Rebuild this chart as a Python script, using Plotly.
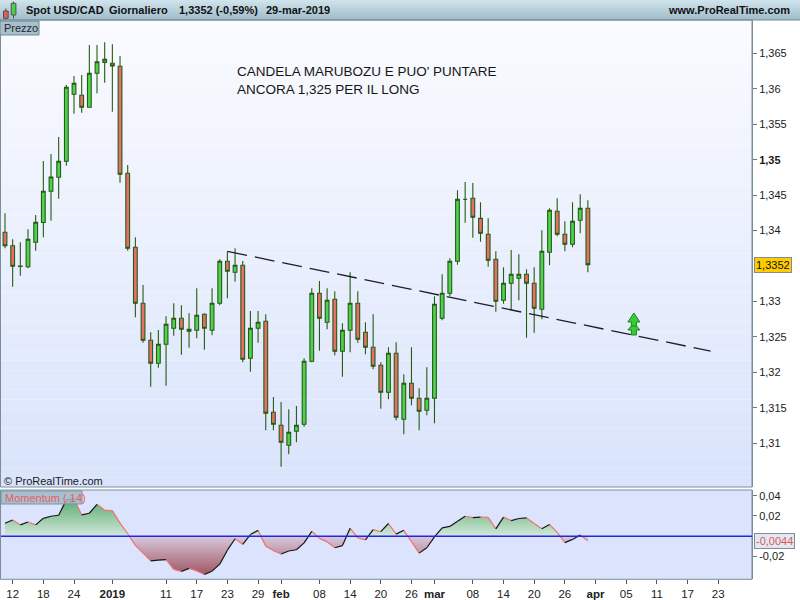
import plotly.graph_objects as go
import pandas as pd

# ---------------- data ----------------
HOLIDAYS = ["2018-12-25", "2019-01-01"]
calendar = [d.strftime("%Y-%m-%d") for d in pd.bdate_range("2018-12-11", "2019-04-30")
            if d.strftime("%Y-%m-%d") not in HOLIDAYS]
day_pos = {d: i for i, d in enumerate(calendar)}
dates = [d for d in calendar if d <= "2019-03-29"]

open_ = [1.33976, 1.33787, 1.33494, 1.33491, 1.33835, 1.34114, 1.34554, 1.34752, 1.34977, 1.35922,
         1.35908, 1.35739, 1.36218, 1.36373, 1.36359, 1.36317, 1.34808, 1.33765, 1.32975, 1.32453,
         1.32129, 1.32397, 1.32622, 1.32763, 1.32608, 1.32594, 1.32820, 1.32594, 1.32975, 1.33567,
         1.33412, 1.33511, 1.32199, 1.32622, 1.32721, 1.31438, 1.31254, 1.30972, 1.31170, 1.31268,
         1.32157, 1.33116, 1.32707, 1.33031, 1.32298, 1.32594, 1.32975, 1.32566, 1.32354, 1.32101,
         1.31720, 1.32270, 1.31339, 1.31847, 1.31635, 1.31466, 1.31635, 1.32763, 1.33116, 1.33567,
         1.34440, 1.34456, 1.34173, 1.33948, 1.33595, 1.33017, 1.33257, 1.33327, 1.33384, 1.33257,
         1.32890, 1.33694, 1.34272, 1.33948, 1.33807, 1.34145, 1.34315]
high = [1.34244, 1.33877, 1.33835, 1.34018, 1.34220, 1.34982, 1.35080, 1.35320, 1.36053, 1.36180,
        1.36194, 1.36617, 1.36617, 1.36655, 1.36627, 1.36462, 1.34925, 1.33906, 1.33233, 1.32566,
        1.32598, 1.32792, 1.32975, 1.32947, 1.32834, 1.33186, 1.32834, 1.33186, 1.33595, 1.33708,
        1.33750, 1.33571, 1.32866, 1.32866, 1.32820, 1.31653, 1.31583, 1.31480, 1.31527, 1.32199,
        1.33186, 1.33289, 1.33186, 1.33144, 1.32693, 1.33412, 1.33144, 1.32707, 1.32820, 1.32143,
        1.32354, 1.32425, 1.31974, 1.32354, 1.31776, 1.32072, 1.33074, 1.33384, 1.33609, 1.34568,
        1.34685, 1.34671, 1.34399, 1.34173, 1.33708, 1.33482, 1.33726, 1.33666, 1.33454, 1.33482,
        1.34004, 1.34315, 1.34456, 1.34131, 1.34399, 1.34512, 1.34427]
low = [1.33750, 1.33209, 1.33364, 1.33468, 1.33717, 1.33906, 1.34140, 1.34450, 1.34915, 1.35649,
       1.35663, 1.35736, 1.35936, 1.36086, 1.35677, 1.34676, 1.33717, 1.32777, 1.32419, 1.31799,
       1.32067, 1.31813, 1.32518, 1.32250, 1.32349, 1.32481, 1.32321, 1.32524, 1.32947, 1.33045,
       1.33280, 1.32143, 1.32010, 1.32419, 1.31184, 1.31184, 1.30671, 1.30845, 1.31015, 1.31235,
       1.32143, 1.32306, 1.32608, 1.32242, 1.31940, 1.32284, 1.32419, 1.32256, 1.32044, 1.31488,
       1.31621, 1.31325, 1.31128, 1.31536, 1.31184, 1.31395, 1.31283, 1.32735, 1.33074, 1.33519,
       1.34111, 1.33900, 1.33843, 1.33491, 1.32856, 1.32969, 1.32876, 1.33017, 1.32490, 1.32560,
       1.32749, 1.33511, 1.33920, 1.33708, 1.33765, 1.33962, 1.33412]
close = [1.33787, 1.33497, 1.33501, 1.33877, 1.34117, 1.34554, 1.34756, 1.34977, 1.36021, 1.36077,
         1.35739, 1.36218, 1.36382, 1.36416, 1.36321, 1.34794, 1.33750, 1.32975, 1.32453, 1.32129,
         1.32397, 1.32679, 1.32763, 1.32608, 1.32580, 1.32806, 1.32622, 1.32975, 1.33567, 1.33426,
         1.33511, 1.32185, 1.32622, 1.32707, 1.31424, 1.31268, 1.31015, 1.31156, 1.31254, 1.32157,
         1.33116, 1.32763, 1.33017, 1.32298, 1.32594, 1.32975, 1.32467, 1.32354, 1.32086, 1.31720,
         1.32270, 1.31367, 1.31847, 1.31635, 1.31452, 1.31635, 1.32961, 1.33116, 1.33567, 1.34441,
         1.34440, 1.34188, 1.33962, 1.33581, 1.33003, 1.33257, 1.33384, 1.33384, 1.33257, 1.32904,
         1.33708, 1.34286, 1.33948, 1.33807, 1.34131, 1.34315, 1.33520]

momentum = [0.0128, 0.0161, 0.0112, 0.0141, 0.0112, 0.0177, 0.0197, 0.0207, 0.0360, 0.0370,
            0.0210, 0.0227, 0.0315, 0.0256, 0.0253, 0.0130, 0.0025, -0.0090, -0.0166, -0.0243,
            -0.0236, -0.0230, -0.0326, -0.0347, -0.0316, -0.0341, -0.0376, -0.0344, -0.0275, -0.0137,
            -0.0024, -0.0079, 0.0017, 0.0058, -0.0097, -0.0141, -0.0175, -0.0145, -0.0133, -0.0065,
            0.0049, -0.0021, -0.0055, -0.0113, -0.0092, 0.0079, -0.0016, -0.0035, 0.0066, 0.0045,
            0.0126, 0.0021, 0.0059, -0.0052, -0.0166, -0.0113, -0.0006, 0.0082, 0.0097, 0.0147,
            0.0197, 0.0183, 0.0188, 0.0186, 0.0073, 0.0189, 0.0154, 0.0175, 0.0181, 0.0127,
            0.0075, 0.0117, 0.0038, -0.0063, -0.0031, 0.0013, -0.0044]

tick_dates = ["2018-12-12", "2018-12-18", "2018-12-24", "2019-01-02", "2019-01-11", "2019-01-17",
              "2019-01-23", "2019-01-29", "2019-02-01", "2019-02-08", "2019-02-14", "2019-02-20",
              "2019-02-26", "2019-03-01", "2019-03-08", "2019-03-14", "2019-03-20", "2019-03-26",
              "2019-04-01", "2019-04-05", "2019-04-11", "2019-04-17", "2019-04-23"]
tick_labels = ["12", "18", "24", "<b>2019</b>", "11", "17", "23", "29", "<b>feb</b>", "08", "14",
               "20", "26", "<b>mar</b>", "08", "14", "20", "26", "<b>apr</b>", "05", "11", "17", "23"]

price_ticks = [1.31, 1.315, 1.32, 1.325, 1.33, 1.34, 1.345, 1.35, 1.355, 1.36, 1.365]
price_tick_labels = ["1,31", "1,315", "1,32", "1,325", "1,33", "1,34", "1,345", "<b>1,35</b>",
                     "1,355", "1,36", "1,365"]
mom_ticks = [0.04, 0.02, -0.02]
mom_tick_labels = ["0,04", "0,02", "-0,02"]

last_price = 1.3352
last_price_label = "1,3352"
last_mom = -0.0044
last_mom_label = "-0,0044"

trend_start = ("2019-01-23", 1.33708)
trend_end = ("2019-04-22", 1.32300)
arrow_at = ("2019-04-08", 1.32528)

header_parts = [("Spot USD/CAD", 24), ("Giornaliero", 107), ("1,3352 (-0,59%)", 177), ("29-mar-2019", 264)]
note_text = "CANDELA MARUBOZU E PUO' PUNTARE<br>ANCORA 1,325 PER IL LONG"

# ---------------- layout helpers ----------------
W, H = 800, 600
def px(x): return x / W
def py(y): return 1 - y / H

def lerp_color(c1, c2, t):
    a = [int(c1[i:i + 2], 16) for i in (1, 3, 5)]
    b = [int(c2[i:i + 2], 16) for i in (1, 3, 5)]
    return "#%02x%02x%02x" % tuple(round(a[k] + (b[k] - a[k]) * t) for k in range(3))

PL, PR = 1, 752
MAIN_T, MAIN_B = 20, 487
MOM_T, MOM_B = 490, 579.3
XR = [-0.52, 97.4]

x_idx = [day_pos[d] for d in dates]

fig = go.Figure()

fig.add_trace(go.Candlestick(
    x=x_idx, open=open_, high=high, low=low, close=close,
    increasing=dict(fillcolor="#4fd24f", line=dict(color="#265c14", width=1.1)),
    decreasing=dict(fillcolor="#e5706a", line=dict(color="#265c14", width=1.1)),
    whiskerwidth=0, xaxis="x", yaxis="y", showlegend=False, hoverinfo="skip"))

fig.add_trace(go.Scatter(
    x=[day_pos[trend_start[0]], day_pos[trend_end[0]]], y=[trend_start[1], trend_end[1]],
    mode="lines", line=dict(color="#1e1e28", width=1.3, dash="20px,8px"),
    xaxis="x", yaxis="y", showlegend=False, hoverinfo="skip"))

# momentum fill
fig.add_trace(go.Scatter(
    x=x_idx, y=momentum, mode="lines", line=dict(width=0), fill="tozeroy",
    fillgradient=dict(type="vertical", start=-0.045, stop=0.045,
                      colorscale=[[0, "#94404c"], [0.5, "#d8c9dc"], [0.5, "#d2e8da"], [1, "#3c9f55"]]),
    xaxis="x2", yaxis="y2", showlegend=False, hoverinfo="skip"))

up_x, up_y, dn_x, dn_y = [], [], [], []
for i in range(len(momentum) - 1):
    seg_x = [x_idx[i], x_idx[i + 1], None]
    seg_y = [momentum[i], momentum[i + 1], None]
    if momentum[i + 1] >= momentum[i]:
        up_x += seg_x; up_y += seg_y
    else:
        dn_x += seg_x; dn_y += seg_y
fig.add_trace(go.Scatter(x=dn_x, y=dn_y, mode="lines", line=dict(color="#f07272", width=1.2),
                         xaxis="x2", yaxis="y2", showlegend=False, hoverinfo="skip"))
fig.add_trace(go.Scatter(x=up_x, y=up_y, mode="lines", line=dict(color="#151515", width=1.2),
                         xaxis="x2", yaxis="y2", showlegend=False, hoverinfo="skip"))

shapes = []
# header gradient
for i in range(20):
    shapes.append(dict(type="rect", xref="paper", yref="paper", x0=0, x1=1, y0=py(i + 1), y1=py(i),
                       fillcolor=lerp_color("#cfe3eb", "#a0bdca", i / 19), line=dict(width=0), layer="below"))
shapes.append(dict(type="line", xref="paper", yref="paper", x0=0, x1=1, y0=py(20), y1=py(20),
                   line=dict(color="#71899a", width=1)))
# main panel gradient
n = 48
for i in range(n):
    y0 = MAIN_T + (MAIN_B - MAIN_T) * i / n
    y1 = MAIN_T + (MAIN_B - MAIN_T) * (i + 1) / n
    shapes.append(dict(type="rect", xref="paper", yref="paper", x0=px(PL), x1=px(PR), y0=py(y1), y1=py(y0),
                       fillcolor=lerp_color("#fafbff", "#d9e3fb", i / (n - 1)), line=dict(width=0), layer="below"))
# momentum panel background
shapes.append(dict(type="rect", xref="paper", yref="paper", x0=px(PL), x1=px(PR), y0=py(MOM_B), y1=py(MOM_T),
                   fillcolor="#dbe4fc", line=dict(width=0), layer="below"))
# panel borders
for (t, b) in [(MAIN_T, MAIN_B), (MOM_T, MOM_B)]:
    shapes.append(dict(type="rect", xref="paper", yref="paper", x0=px(0.5), x1=px(PR), y0=py(b), y1=py(t),
                       fillcolor="rgba(0,0,0,0)", line=dict(color="#7b8d9b", width=1)))
# momentum zero line
shapes.append(dict(type="line", xref="paper", yref="y2", x0=px(PL), x1=px(PR), y0=0, y1=0,
                   line=dict(color="#2424e6", width=1.3)))
# header candle icon
shapes += [
    dict(type="line", xref="paper", yref="paper", x0=px(5.8), x1=px(5.8), y0=py(19.5), y1=py(8.5),
         line=dict(color="#505050", width=1)),
    dict(type="rect", xref="paper", yref="paper", x0=px(3.5), x1=px(8.2), y0=py(18.3), y1=py(11),
         fillcolor="#e65c5c", line=dict(color="#505050", width=1)),
    dict(type="line", xref="paper", yref="paper", x0=px(13.5), x1=px(13.5), y0=py(18.5), y1=py(1.5),
         line=dict(color="#505050", width=1)),
    dict(type="rect", xref="paper", yref="paper", x0=px(11.2), x1=px(15.9), y0=py(15), y1=py(3.3),
         fillcolor="#4cd04c", line=dict(color="#505050", width=1)),
]
# Prezzo box
shapes.append(dict(type="rect", xref="paper", yref="paper", x0=px(0), x1=px(39), y0=py(35), y1=py(21),
                   fillcolor="#a9bfcc", line=dict(color="#6f8796", width=1)))
# Momentum label box
shapes.append(dict(type="rect", xref="paper", yref="paper", x0=px(1), x1=px(82), y0=py(504), y1=py(491),
                   fillcolor="rgba(160,184,200,0.85)", line=dict(color="#7d93a2", width=1)))
# green double arrow (pixel sized, anchored on the chart)
ax = day_pos[arrow_at[0]]
for path in ["M -2.5 0 L 2.5 0 L 2.5 5 L 6 5 L 0 12 L -6 5 L -2.5 5 Z",
             "M -2.5 9 L 2.5 9 L 2.5 13 L 6 13 L 0 22 L -6 13 L -2.5 13 Z"]:
    shapes.append(dict(type="path", xref="x", yref="y", xsizemode="pixel", ysizemode="pixel",
                       xanchor=ax, yanchor=arrow_at[1], path=path,
                       fillcolor="#3cc83c", line=dict(color="#168a16", width=1)))

annotations = []
FONT = "Liberation Sans, Arial, sans-serif"
for text, x in header_parts:
    annotations.append(dict(text=f"<b>{text}</b>", xref="paper", yref="paper", x=px(x), y=py(10),
                            xanchor="left", yanchor="middle", showarrow=False,
                            font=dict(family=FONT, size=11, color="#111111")))
annotations.append(dict(text="<b>www.ProRealTime.com</b>", xref="paper", yref="paper", x=px(792), y=py(10),
                        xanchor="right", yanchor="middle", showarrow=False,
                        font=dict(family=FONT, size=11, color="#111111")))
annotations.append(dict(text="Prezzo", xref="paper", yref="paper", x=px(2), y=py(28),
                        xanchor="left", yanchor="middle", showarrow=False,
                        font=dict(family=FONT, size=11, color="#1c2833")))
annotations.append(dict(text="Momentum ( 14)", xref="paper", yref="paper", x=px(3), y=py(497.5),
                        xanchor="left", yanchor="middle", showarrow=False,
                        font=dict(family=FONT, size=11, color="#e8605c")))
annotations.append(dict(text="© ProRealTime.com", xref="paper", yref="paper", x=px(2), y=py(481),
                        xanchor="left", yanchor="middle", showarrow=False,
                        font=dict(family=FONT, size=11, color="#1a1a1a")))
annotations.append(dict(text=note_text, xref="paper", yref="paper", x=px(235), y=py(62),
                        xanchor="left", yanchor="top", align="left", showarrow=False,
                        font=dict(family=FONT, size=13.5, color="#151515")))
annotations.append(dict(text=last_price_label, xref="paper", yref="y", x=px(754), y=last_price,
                        xanchor="left", yanchor="middle", showarrow=False, bgcolor="#ffcc00",
                        bordercolor="#7d8d9a", borderwidth=1, borderpad=1,
                        font=dict(family=FONT, size=11, color="#111111")))
annotations.append(dict(text=last_mom_label, xref="paper", yref="y2", x=px(754), y=last_mom,
                        xanchor="left", yanchor="middle", showarrow=False, bgcolor="#e2e8f1",
                        bordercolor="#7d8d9a", borderwidth=1, borderpad=1,
                        font=dict(family=FONT, size=11, color="#e05858")))

fig.update_layout(
    width=W, height=H, margin=dict(l=0, r=0, t=0, b=0),
    paper_bgcolor="#ffffff", plot_bgcolor="rgba(0,0,0,0)",
    showlegend=False, shapes=shapes, annotations=annotations,
    font=dict(family=FONT, size=11, color="#222222"),
    xaxis=dict(domain=[px(PL), px(PR)], range=XR, anchor="y", showticklabels=False, showgrid=False,
               zeroline=False, rangeslider=dict(visible=False), ticks=""),
    xaxis2=dict(domain=[px(PL), px(PR)], range=XR, anchor="y2", showgrid=False, zeroline=False,
                tickmode="array", tickvals=[day_pos[d] for d in tick_dates], ticktext=tick_labels,
                ticks="outside", ticklen=4, tickcolor="#555555",
                tickfont=dict(family=FONT, size=11.5, color="#222222")),
    yaxis=dict(domain=[py(MAIN_B), py(MAIN_T)], range=[1.30384, 1.3697], anchor="x", side="right",
               showgrid=False, zeroline=False, tickmode="array", tickvals=price_ticks,
               ticktext=price_tick_labels, ticks="outside", ticklen=4, tickcolor="#6a7a88",
               showline=True, linecolor="#7b8d9b", tickfont=dict(family=FONT, size=11, color="#1a1a1a")),
    yaxis2=dict(domain=[py(MOM_B), py(MOM_T)], range=[-0.0424, 0.0456], anchor="x2", side="right",
                showgrid=False, zeroline=False, tickmode="array", tickvals=mom_ticks,
                ticktext=mom_tick_labels, ticks="outside", ticklen=4, tickcolor="#6a7a88",
                showline=True, linecolor="#7b8d9b", tickfont=dict(family=FONT, size=11, color="#1a1a1a")),
    boxgap=0.3,
)

fig.write_html("out.html", config={"displayModeBar": False},
               post_script="document.body.style.margin='0';document.body.style.overflow='hidden';")
